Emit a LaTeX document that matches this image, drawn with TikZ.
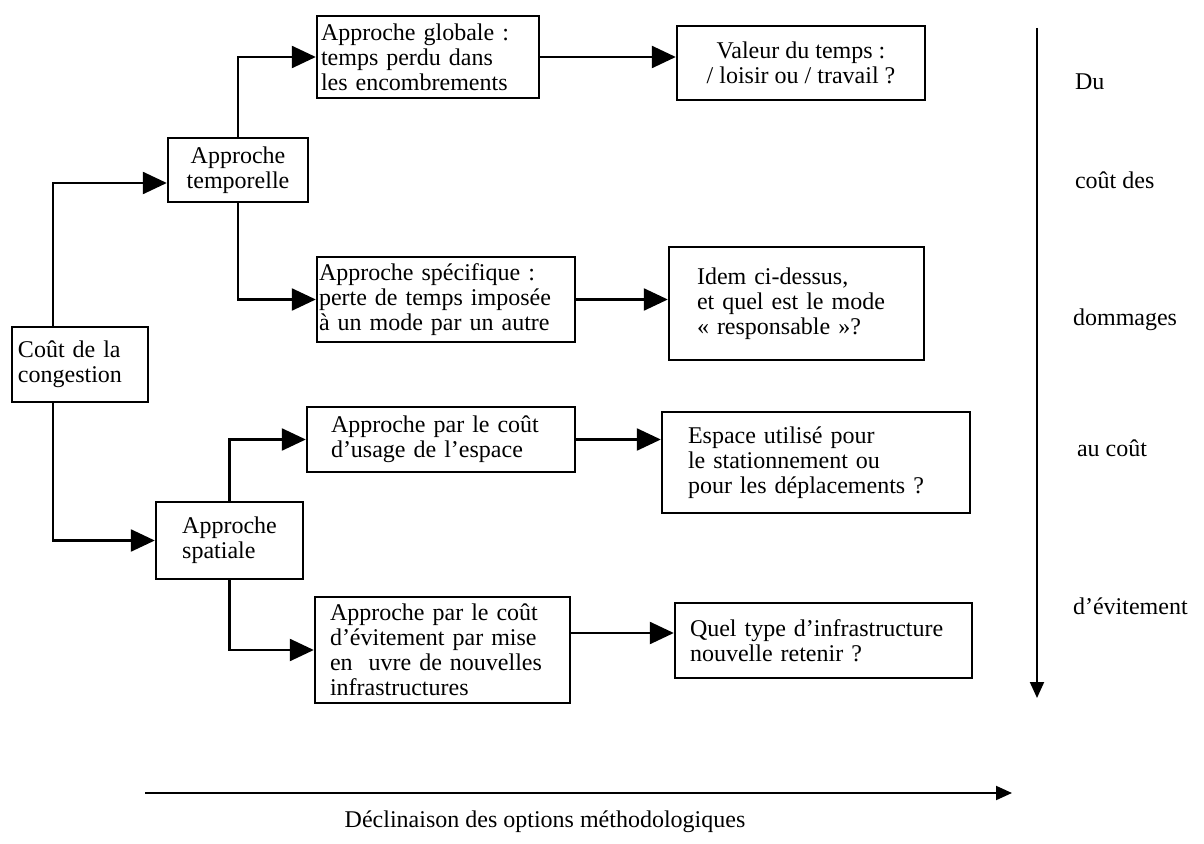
\documentclass[tikz,border=0pt]{standalone}
\usepackage{fontspec}
\setmainfont{Liberation Serif}
\usetikzlibrary{arrows.meta}

\begin{document}
\begin{tikzpicture}[x=0.5pt, y=-0.5pt, font=\fontsize{12}{12.5}\selectfont,
  box/.style={draw, line width=1.2pt, inner sep=0pt, align=left},
  link/.style={line width=1.2pt, -{Triangle[length=12pt,width=11pt]}},
  axis/.style={line width=1pt, -{Triangle[length=8pt,width=7pt]}}]
\useasboundingbox (0,0) rectangle (1204,844);
\node[box, minimum width=68pt, minimum height=37.5pt, text width=62pt] (cout) at (80,364.5) {Coût de la\\congestion};
\node[box, minimum width=70pt, minimum height=32pt, align=center] (temp) at (238,170) {Approche\\temporelle};
\node[box, minimum width=111pt, minimum height=41pt, text width=107pt] (glob) at (428,57) {Approche globale :\\temps perdu dans\\les encombrements};
\node[box, minimum width=124pt, minimum height=37pt, align=center] (val) at (801,63) {Valeur du temps :\\/ loisir ou / travail ?};
\node[box, minimum width=129pt, minimum height=42.5pt, text width=127pt] (spec) at (446,299.5) {Approche spécifique :\\perte de temps imposée\\à un mode par un autre};
\node[box, minimum width=127.5pt, minimum height=56.5pt, text width=99.5pt] (idem) at (796.5,303.5) {Idem ci-dessus,\\et quel est le mode\\« responsable »?};
\node[box, minimum width=134pt, minimum height=32.5pt, text width=110pt] (usage) at (441,439.5) {Approche par le coût\\d'usage de l'espace};
\node[box, minimum width=154pt, minimum height=50.5pt, text width=128pt] (esp) at (816,462.5) {Espace utilisé pour\\le stationnement ou\\pour les déplacements ?};
\node[box, minimum width=73.5pt, minimum height=38.5pt] (spat) at (229.5,540.5) {Approche\\spatiale};
\node[box, minimum width=127.5pt, minimum height=53pt, text width=112.5pt] (evit) at (442.5,650) {Approche par le coût\\d'évitement par mise\\en\ \ uvre de nouvelles\\infrastructures};
\node[box, minimum width=148.5pt, minimum height=37.5pt, text width=133.5pt] (quel) at (823.5,640.5) {Quel type d'infrastructure\\nouvelle retenir ?};
\coordinate (trunk) at (53,0);
\draw[link] (cout.north -| trunk) |- ([yshift=-6.5pt]temp.west);
\draw[link] (cout.south -| trunk) |- (spat.west);
\draw[link] (temp.north) |- (glob.west);
\draw[link] (temp.south) |- (spec.west);
\draw[link] (spat.north) |- (usage.west);
\draw[link] (spat.south) |- (evit.west);
\draw[link] (glob.east) -- (glob.east -| val.west);
\draw[link] (spec.east) -- (spec.east -| idem.west);
\draw[link] (usage.east) -- (usage.east -| esp.west);
\draw[link] ([yshift=8.5pt]evit.east) -- ([yshift=8.5pt]evit.east -| quel.west);
\coordinate (vtop) at (1037,28);
\coordinate (vbot) at (1037,698);
\draw[axis] (vtop) -- (vbot);
\node[anchor=west] (du) at (1068,82) {Du};
\node[anchor=west] (cdes) at (1068,180) {coût des};
\node[anchor=west] (dom) at (1066,320) {dommages};
\node[anchor=west] (auc) at (1070,448) {au coût};
\node[anchor=west] (dev) at (1066,606) {d'évitement};
\coordinate (hleft) at (145,793);
\coordinate (hright) at (1012,793);
\draw[axis] (hleft) -- (hright);
\node (decl) at (545,822) {Déclinaison des options méthodologiques};
\end{tikzpicture}
\end{document}
